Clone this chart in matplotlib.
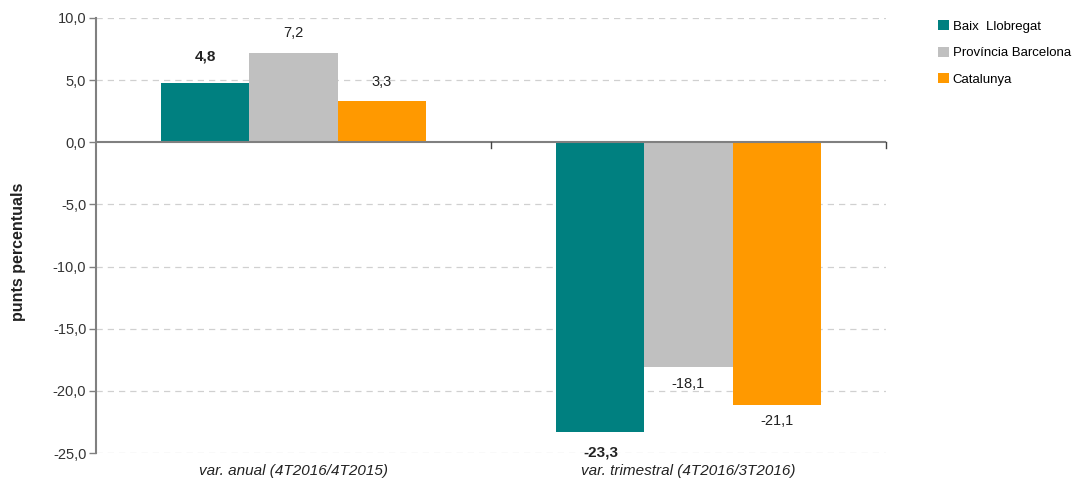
import matplotlib
matplotlib.use("Agg")
import matplotlib.pyplot as plt
import numpy as np
from matplotlib import font_manager

categories = ["var. anual (4T2016/4T2015)", "var. trimestral (4T2016/3T2016)"]
series_names = ["Baix  Llobregat", "Província Barcelona", "Catalunya"]
baix = [4.8, -23.3]
provincia = [7.2, -18.1]
catalunya = [3.3, -21.1]
label_texts = [["4,8", "-23,3"], ["7,2", "-18,1"], ["3,3", "-21,1"]]
yticks = [10, 5, 0, -5, -10, -15, -20, -25]
yticklabels = ["10,0", "5,0", "0,0", "-5,0", "-10,0", "-15,0", "-20,0", "-25,0"]

colors = ["#008080", "#C0C0C0", "#FF9900"]

names = {f.name for f in font_manager.fontManager.ttflist}
fam = ["Liberation Sans Narrow", "DejaVu Sans"] if "Liberation Sans Narrow" in names else ["Liberation Sans", "DejaVu Sans"]
plt.rcParams['font.family'] = fam

fig = plt.figure(figsize=(10.74, 4.86), dpi=100)
ax = fig.add_axes([96/1074, 33/486, 790/1074, 435/486])

x = np.arange(len(categories))
w = 0.223
data = [baix, provincia, catalunya]
for i, (vals, c, nm) in enumerate(zip(data, colors, series_names)):
    bars = ax.bar(x + (i - 1) * w, vals, w, color=c, label=nm, zorder=2)
    for j, (b, v) in enumerate(zip(bars, vals)):
        bold = (i == 0)
        xc = b.get_x() + b.get_width() / 2
        if v >= 0:
            off = 19 if bold else 14
        else:
            off = -15 if bold else -12
        ax.annotate(label_texts[i][j], (xc, v), xytext=(0, off),
                    textcoords="offset points", ha="center", va="center",
                    fontsize=11 if bold else 10.5, fontweight="bold" if bold else "normal",
                    color="#222222")

ax.set_xlim(-0.5, 1.5)
ax.set_ylim(-25, 10)
ax.set_yticks(yticks)
ax.set_yticklabels(yticklabels, fontsize=10.5, color="#333333")
for t in [10, 5, -5, -10, -15, -20, -25]:
    ax.axhline(t, color="#D0D0D0", lw=0.9, ls=(0, (5, 4)), zorder=1)
ax.axhline(0, color="#808080", lw=1.5, zorder=3)

ax.set_xticks([])
for xv in [0.5, 1.5]:
    ax.plot([xv, xv], [0, -0.45], color="#444444", lw=1, zorder=4, clip_on=False)
for xc, cat in zip(x, categories):
    ax.text(xc, -26.45, cat, ha="center", va="center", fontsize=11, style="italic",
            color="#222222")

for s in ["top", "right", "bottom"]:
    ax.spines[s].set_visible(False)
ax.spines["left"].set_color("#808080")
ax.spines["left"].set_linewidth(1.5)
ax.tick_params(axis="y", length=5, color="#808080", width=1, pad=2)

ax.set_ylabel("punts percentuals", fontsize=11.5, fontweight="bold", color="#222222")
ax.yaxis.set_label_coords(-0.088, 0.462)

leg = fig.legend(loc="upper left", bbox_to_anchor=(933/1074, 1 - 15/486), frameon=False,
                 fontsize=9.5, handlelength=0.8, handleheight=0.8, handletextpad=0.3,
                 labelspacing=1.05, borderaxespad=0)

fig.savefig("out.png", dpi=100)
